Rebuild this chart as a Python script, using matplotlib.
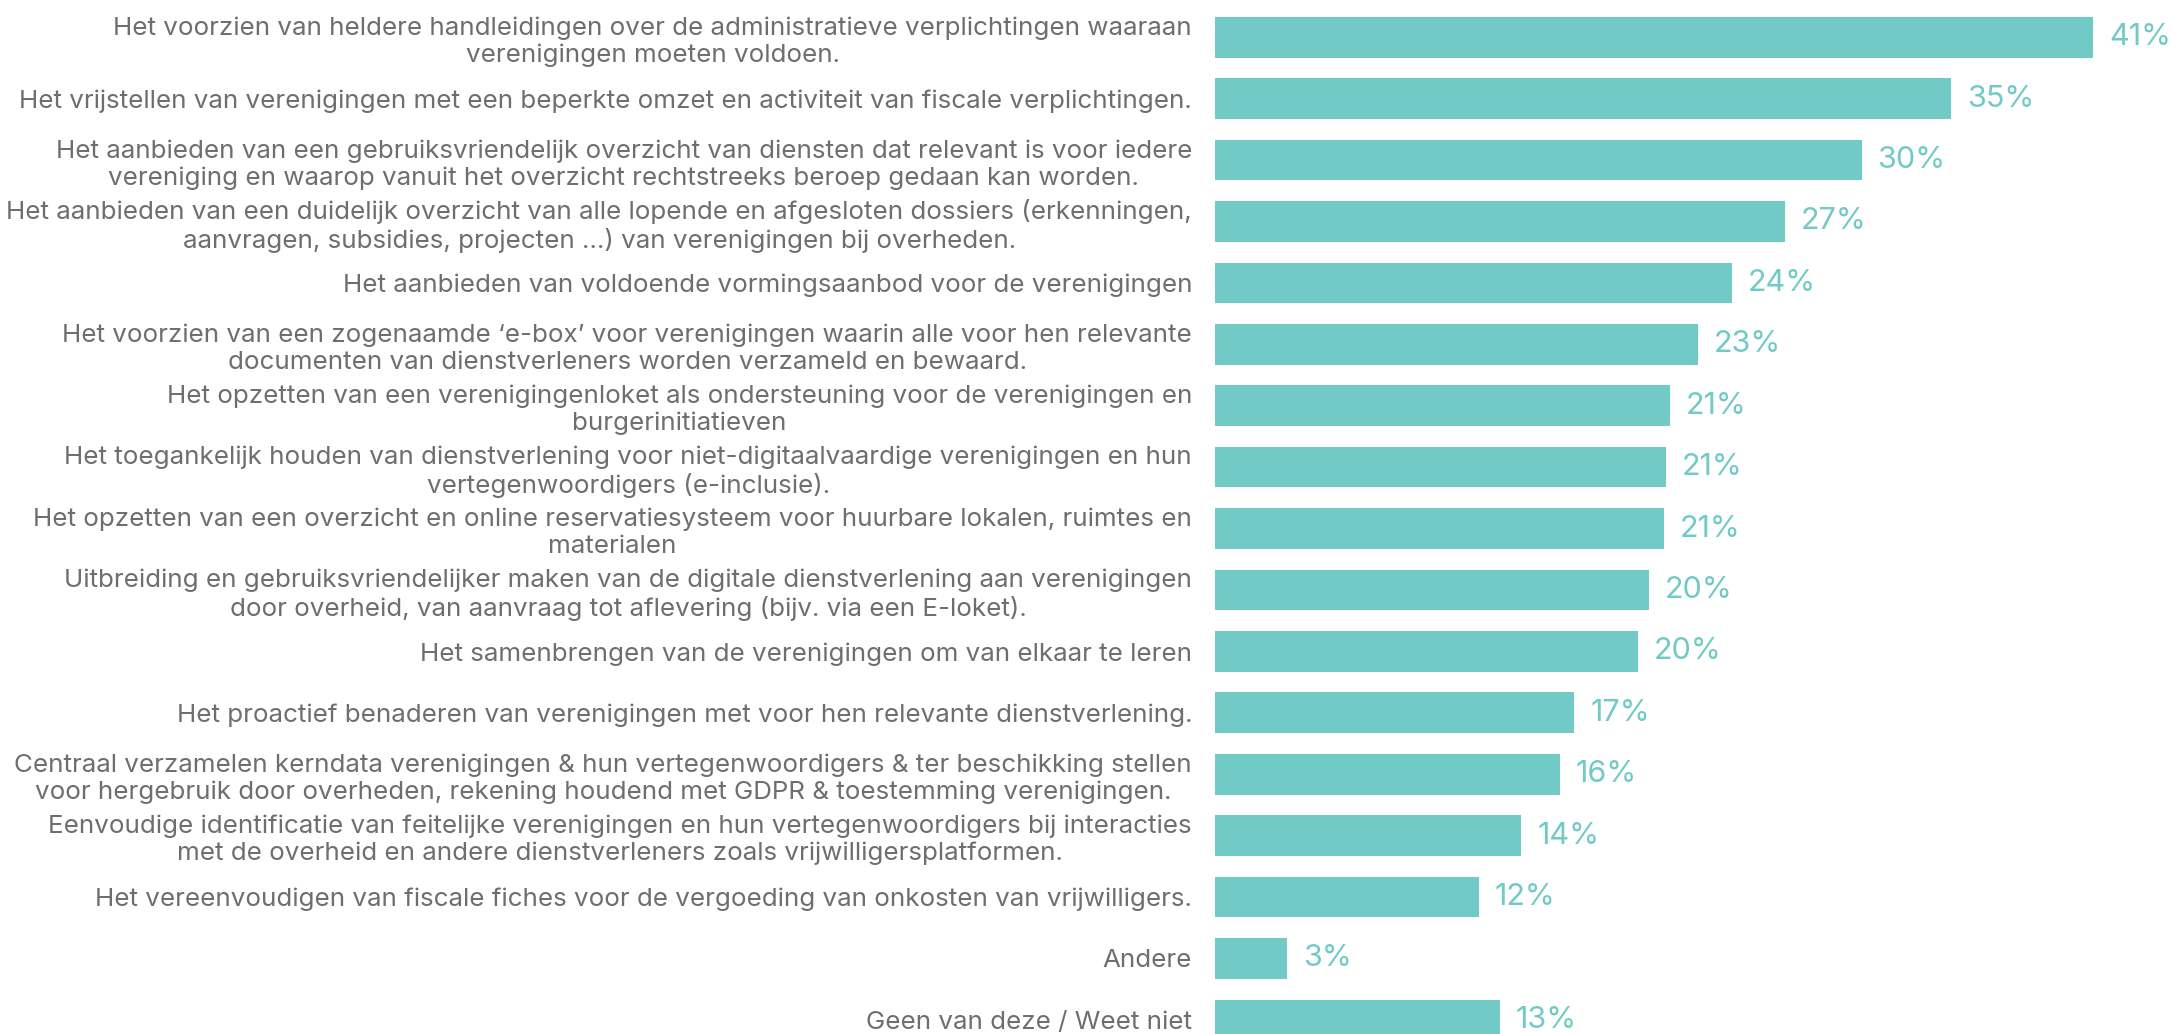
import numpy as np
import matplotlib.pyplot as plt

# Answers (top to bottom) and share of respondents in %
labels = [
    "Het voorzien van heldere handleidingen over de administratieve verplichtingen waaraan\nverenigingen moeten voldoen.",
    "Het vrijstellen van verenigingen met een beperkte omzet en activiteit van fiscale verplichtingen.",
    "Het aanbieden van een gebruiksvriendelijk overzicht van diensten dat relevant is voor iedere\nvereniging en waarop vanuit het overzicht rechtstreeks beroep gedaan kan worden.",
    "Het aanbieden van een duidelijk overzicht van alle lopende en afgesloten dossiers (erkenningen,\naanvragen, subsidies, projecten …) van verenigingen bij overheden.",
    "Het aanbieden van voldoende vormingsaanbod voor de verenigingen",
    "Het voorzien van een zogenaamde \u2018e-box\u2019 voor verenigingen waarin alle voor hen relevante\ndocumenten van dienstverleners worden verzameld en bewaard.",
    "Het opzetten van een verenigingenloket als ondersteuning voor de verenigingen en\nburgerinitiatieven",
    "Het toegankelijk houden van dienstverlening voor niet-digitaalvaardige verenigingen en hun\nvertegenwoordigers (e-inclusie).",
    "Het opzetten van een overzicht en online reservatiesysteem voor huurbare lokalen, ruimtes en\nmaterialen",
    "Uitbreiding en gebruiksvriendelijker maken van de digitale dienstverlening aan verenigingen\ndoor overheid, van aanvraag tot aflevering (bijv. via een E-loket).",
    "Het samenbrengen van de verenigingen om van elkaar te leren",
    "Het proactief benaderen van verenigingen met voor hen relevante dienstverlening.",
    "Centraal verzamelen kerndata verenigingen & hun vertegenwoordigers & ter beschikking stellen\nvoor hergebruik door overheden, rekening houdend met GDPR & toestemming verenigingen.",
    "Eenvoudige identificatie van feitelijke verenigingen en hun vertegenwoordigers bij interacties\nmet de overheid en andere dienstverleners zoals vrijwilligersplatformen.",
    "Het vereenvoudigen van fiscale fiches voor de vergoeding van onkosten van vrijwilligers.",
    "Andere",
    "Geen van deze / Weet niet",
]
values = [41.3, 34.6, 30.4, 26.8, 24.3, 22.7, 21.4, 21.2, 21.1, 20.4,
          19.9, 16.9, 16.2, 14.4, 12.4, 3.4, 13.4]
value_labels = ["41%", "35%", "30%", "27%", "24%", "23%", "21%", "21%", "21%",
                "20%", "20%", "17%", "16%", "14%", "12%", "3%", "13%"]

teal = "#71CAC5"
grey = "#6E6E6E"
plt.rcParams['font.family'] = ['Inter', 'DejaVu Sans']

fig = plt.figure(figsize=(21.72, 10.34), dpi=100)
ax = fig.add_axes([1215 / 2172, 0, 1 - 1215 / 2172, 1])

y = np.arange(len(values))
ax.barh(y, values, height=0.663, color=teal)
ax.set_xlim(0, 45)
ax.set_ylim(16.23, -0.606)

ax.set_yticks(y)
ax.set_yticklabels(labels, ma='center', fontsize=18.7, color=grey, linespacing=1.2)
ax.tick_params(axis='y', length=0, pad=16.5)
ax.set_xticks([])
for s in ax.spines.values():
    s.set_visible(False)

for i, (v, t) in enumerate(zip(values, value_labels)):
    ax.annotate(t, (v, i), xytext=(11.5, 0), textcoords='offset points',
                va='center', ha='left', fontsize=22, color=teal)

fig.savefig("out.png", dpi=100)
